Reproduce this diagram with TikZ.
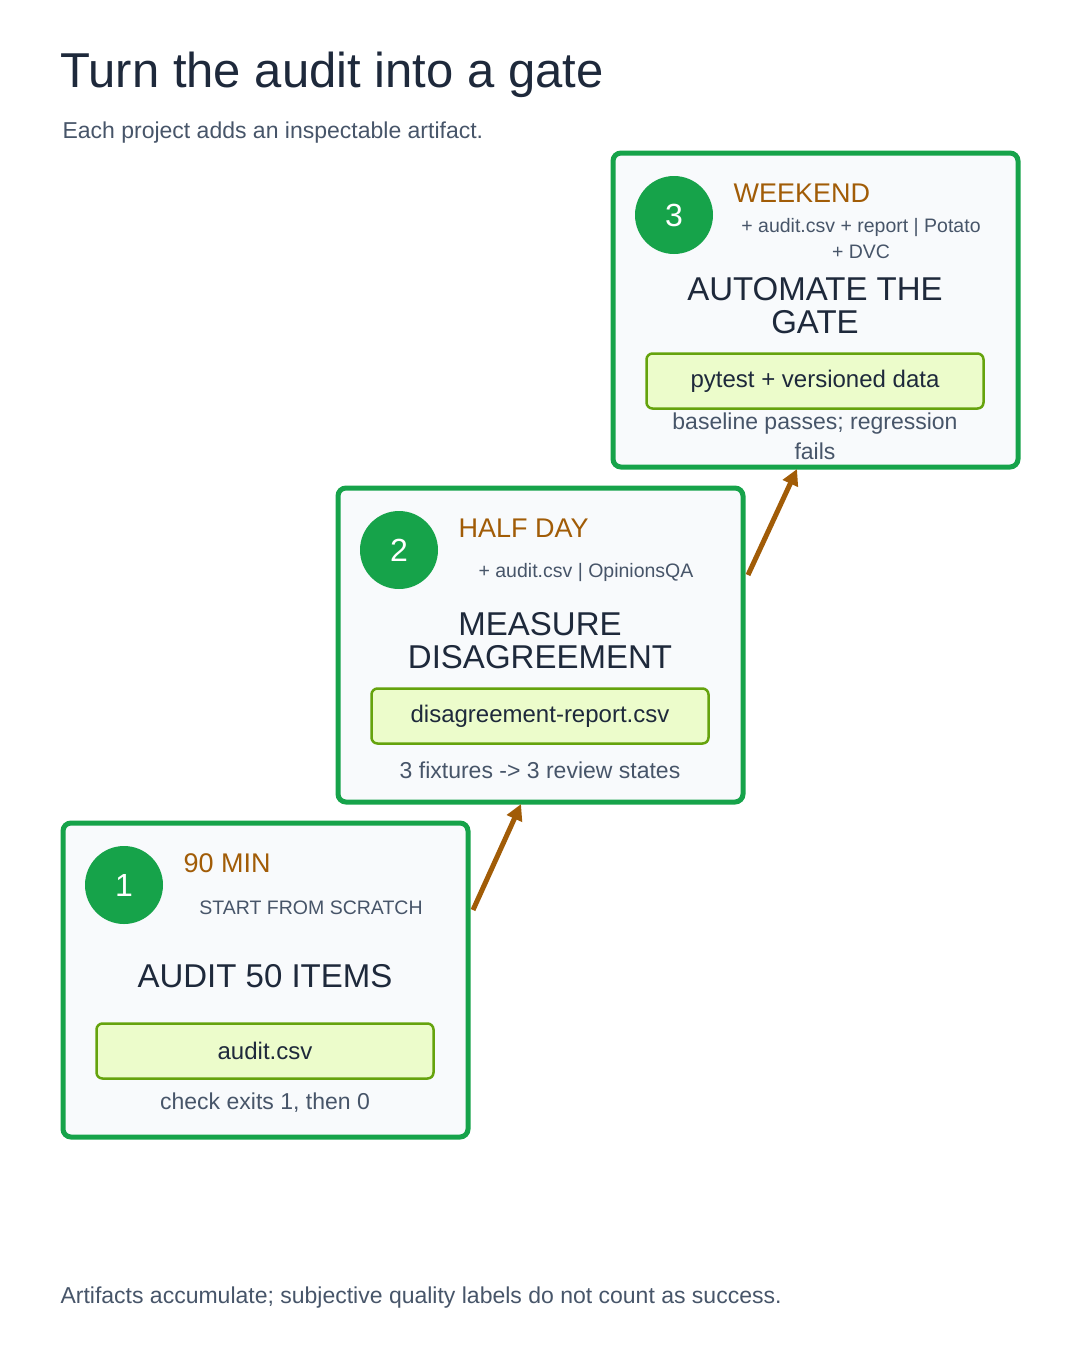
\documentclass[tikz,border=0pt]{standalone}
\usepackage{fontspec}
\setmainfont{Liberation Sans}
\usetikzlibrary{arrows.meta}
\definecolor{grn}{HTML}{16A34A}
\definecolor{card}{HTML}{F8FAFC}
\definecolor{ink}{HTML}{1E293B}
\definecolor{gry}{HTML}{475569}
\definecolor{brn}{HTML}{A15C07}
\definecolor{lime}{HTML}{ECFCCB}
\definecolor{limed}{HTML}{65A30D}
\newcommand{\fs}[1]{\fontsize{#1}{#1}\selectfont}
\newcommand{\fsb}[2]{\fontsize{#1}{#2}\selectfont}
\begin{document}
\begin{tikzpicture}[x=1pt,y=-1pt,
 card/.style={draw=grn,fill=card,line width=5,rounded corners=8},
 num/.style={circle,fill=grn,minimum size=78,inner sep=0,text=white,font=\fs{32}},
 time/.style={anchor=west,text=brn,font=\fs{27}},
 sub/.style={text=gry,font=\fs{19.5},align=center},
 head/.style={text=ink,font=\fs{33},align=center},
 art/.style={draw=limed,fill=lime,line width=2.5,rounded corners=6,minimum width=337,minimum height=55,text=ink,font=\fs{24}},
 note/.style={text=gry,font=\fs{23},align=center},
 arr/.style={draw=brn,line width=5,-{Triangle[length=16,width=16]}}]
\useasboundingbox (0,0) rectangle (1080,1350);
\node[anchor=west,text=ink,font=\fs{49}] (title) at (57,75) {Turn the audit into a gate};
\node[anchor=west,text=gry,font=\fs{23}] (subt) at (59,133) {Each project adds an inspectable artifact.};
\node[anchor=west,text=gry,font=\fs{23}] (foot) at (57,1298) {Artifacts accumulate; subjective quality labels do not count as success.};
% card 1
\draw[card] (63,823) rectangle (468,1137);
\node[num] (n1) at (124,885) {1};
\node[time] (t1) at (180,863) {90 MIN};
\node[sub] (s1) at (311,908) {START FROM SCRATCH};
\node[head] (h1) at (265,976) {AUDIT 50 ITEMS};
\node[art] (a1) at (265,1051) {audit.csv};
\node[note] (c1) at (265,1103) {check exits 1, then 0};
% card 2
\draw[card] (338,488) rectangle (743,802);
\node[num] (n2) at (399,550) {2};
\node[time] (t2) at (455,528) {HALF DAY};
\node[sub] (s2) at (586,572) {+ audit.csv | OpinionsQA};
\node[head,font={\fsb{33}{33}}] (h2) at (540,641) {MEASURE\\DISAGREEMENT};
\node[art] (a2) at (540,716) {disagreement-report.csv};
\node[note] (c2) at (540,770) {3 fixtures -> 3 review states};
% card 3
\draw[card] (613,153) rectangle (1018,467);
\node[num] (n3) at (674,215) {3};
\node[time] (t3) at (730,193) {WEEKEND};
\node[sub,font={\fsb{19.5}{26}}] (s3) at (861,239) {+ audit.csv + report | Potato\\+ DVC};
\node[head,font={\fsb{33}{33}}] (h3) at (815,306) {AUTOMATE THE\\GATE};
\node[art] (a3) at (815,381) {pytest + versioned data};
\node[note,font={\fsb{23}{30}}] (c3) at (815,436) {baseline passes; regression\\fails};
% arrows
\coordinate (p1) at (473,910); \coordinate (q1) at (521,804);
\coordinate (p2) at (748,575); \coordinate (q2) at (797,469);
\draw[arr] (p1) -- (q1);
\draw[arr] (p2) -- (q2);
\end{tikzpicture}
\end{document}
